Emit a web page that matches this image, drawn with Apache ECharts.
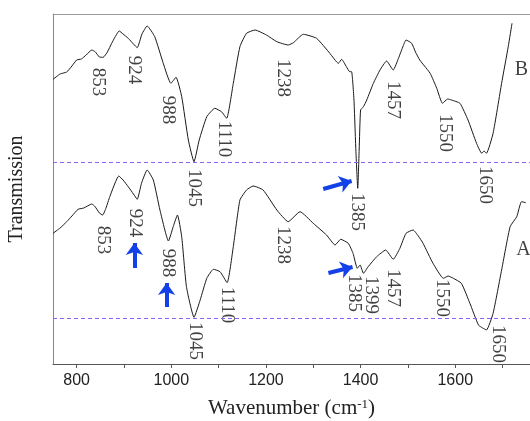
<!DOCTYPE html>
<html>
<head>
<meta charset="utf-8">
<script src="https://cdn.jsdelivr.net/npm/echarts@6/dist/echarts.min.js"></script>
<style>
  html, body { margin: 0; padding: 0; background: #fff; }
  #chart { width: 530px; height: 421px; }
</style>
</head>
<body>
<div id="chart"></div>
<script>
// spectrum B (upper trace): [wavenumber, transmission offset]
const curveB = [
  [750, 284.7], [765, 290], [779, 292], [790, 298], [800, 304], [810, 305], [820, 309],
  [832, 314], [839, 312.3], [848, 307], [856, 306.7], [865, 312], [874, 320.7], [890, 333],
  [898, 330], [909, 325.7], [920, 320], [928, 316.3], [938, 330], [949, 338], [965, 327.3],
  [983, 300.7], [999, 280.7], [1010, 286.7], [1022, 267.3], [1036, 224], [1048, 202.3],
  [1059, 224], [1075, 247.3], [1092, 255.7], [1106, 252.3], [1117, 245.7], [1131, 280.7],
  [1145, 317.3], [1159, 330.7], [1177, 334], [1201, 329], [1223, 322.3], [1247, 319],
  [1258, 321.3], [1279, 329.7], [1307, 325.7], [1335, 310.7], [1353, 300.7], [1360, 304.7],
  [1370, 297.3], [1377, 292.3], [1381, 292.3], [1386, 264], [1390, 214], [1394, 175.7],
  [1397, 214], [1400, 254], [1406, 257.3], [1413, 264], [1427, 280.7], [1441, 294],
  [1455, 303], [1469, 294], [1480, 305.7], [1490, 318], [1496, 324], [1508, 320.7],
  [1516, 312], [1525, 304], [1535, 298], [1547, 290.7], [1561, 275.7], [1573, 260.7],
  [1584, 265], [1592, 264], [1610, 260.7], [1627, 244], [1645, 220.7], [1656, 210.7],
  [1661, 213], [1666, 210.7], [1680, 230.7], [1698, 280.7], [1712, 317.3], [1720, 340.7]
];

// spectrum A (lower trace)
const curveA = [
  [750, 130.7], [765, 136], [779, 142.3], [790, 148], [803, 154.7], [815, 156], [832, 160],
  [839, 157.3], [848, 151], [855, 149], [862, 156], [870, 167.3], [889, 188], [898, 184],
  [909, 177.3], [920, 170], [928, 164.7], [937, 180.7], [949, 194], [962, 184], [976, 154],
  [994, 123], [1004, 137.3], [1013, 149], [1022, 127.3], [1032, 77.3], [1048, 46.7],
  [1061, 64], [1075, 85.7], [1089, 94.7], [1103, 92.3], [1118, 81.3], [1131, 117.3],
  [1145, 164], [1159, 174], [1173, 178], [1194, 174], [1223, 154], [1247, 142.3],
  [1272, 152.3], [1300, 140.7], [1328, 129], [1346, 119], [1358, 124.7], [1374, 120.7],
  [1384, 110.7], [1393, 95.7], [1399, 99], [1406, 90.7], [1416, 97.3], [1434, 107.3],
  [1453, 114], [1469, 104.7], [1483, 115.7], [1496, 130.7], [1511, 134], [1522, 128],
  [1532, 120.7], [1553, 100.7], [1575, 85.7], [1585, 88], [1596, 85.7], [1613, 80.7],
  [1631, 60.7], [1649, 39], [1658, 36], [1666, 34], [1680, 50.7], [1698, 94], [1716, 137.3],
  [1730, 147.3], [1740, 162.3], [1749, 161.3]
];

// peak labels: [x, y, text]
const peakLabelsB = [
  [846, 282, '853'], [922, 294, '924'], [992, 254, '988'], [1048, 176, '1045'],
  [1112, 225, '1110'], [1237, 286, '1238'], [1392, 152, '1385'], [1469, 264, '1457'],
  [1578, 231, '1550'], [1663, 179, '1650']
];
const peakLabelsA = [
  [855, 124, '853'], [923, 141, '924'], [992, 101, '988'], [1050, 23, '1045'],
  [1117, 59, '1110'], [1237, 119, '1238'], [1386, 71, '1385'], [1421, 69, '1399'],
  [1469, 76, '1457'], [1571, 66, '1550'], [1691, 20, '1650']
];
const traceNames = [[1740, 294, 'B'], [1744, 114, 'A']];

// reference baselines
const baselines = [202, 46];

// arrows: [[x1, y1], [x2, y2]]
const arrows = [
  [[1321, 175], [1381, 183]],
  [[1332, 91], [1383, 97]],
  [[922, 96], [922, 121]],
  [[990, 57], [990, 81]]
];

const tickValues = [800, 900, 1000, 1100, 1200, 1300, 1400, 1500, 1600, 1700];
const labelValues = [800, 1000, 1200, 1400, 1600];

const chart = echarts.init(document.getElementById('chart'), null, { renderer: 'canvas' });

const serif = 'Liberation Serif';

const option = {
  animation: false,
  backgroundColor: '#fff',
  grid: { left: 53, right: 0, top: 14, bottom: 57, outerBoundsMode: 'none' },
  xAxis: [
    {
      type: 'value',
      min: 750,
      max: 1758,
      splitLine: { show: false },
      axisLine: { lineStyle: { color: '#555', width: 1 } },
      axisTick: { customValues: tickValues, length: 4, lineStyle: { color: '#555' } },
      axisLabel: {
        customValues: labelValues,
        margin: 9,
        formatter: v => String(v),
        fontFamily: 'Liberation Sans',
        fontSize: 16,
        color: '#222'
      },
      name: '{a|Wavenumber (cm}{s|-1}{a|)}',
      nameLocation: 'middle',
      nameGap: 34,
      nameTextStyle: {
        rich: {
          a: { fontFamily: serif, fontSize: 21, color: '#222' },
          s: { fontFamily: serif, fontSize: 13, color: '#222', verticalAlign: 'top', padding: [0, 0, 8, 0] }
        }
      }
    },
    {
      type: 'value',
      position: 'top',
      min: 750,
      max: 1758,
      splitLine: { show: false },
      axisLine: { lineStyle: { color: '#999', width: 1 } },
      axisTick: { show: false },
      axisLabel: { show: false }
    }
  ],
  yAxis: {
    type: 'value',
    min: 0,
    max: 350,
    splitLine: { show: false },
    axisLine: { show: true, lineStyle: { color: '#888', width: 1 } },
    axisTick: { show: false },
    axisLabel: { show: false },
    name: 'Transmission',
    nameLocation: 'middle',
    nameGap: 26,
    nameTextStyle: { fontFamily: serif, fontSize: 20, color: '#222' }
  },
  series: [
    {
      name: 'B',
      type: 'line',
      data: curveB,
      showSymbol: false,
      smooth: 0.15,
      lineStyle: { color: '#1a1a1a', width: 1 },
      markLine: {
        silent: true,
        symbol: 'none',
        label: { show: false },
        lineStyle: { color: '#8f63f0', type: [4, 3], width: 1 },
        data: baselines.map(v => ({ yAxis: v }))
      }
    },
    {
      name: 'A',
      type: 'line',
      data: curveA,
      showSymbol: false,
      smooth: 0.15,
      lineStyle: { color: '#1a1a1a', width: 1 },
      markLine: {
        silent: true,
        symbol: ['none', 'arrow'],
        symbolSize: [13, 12],
        label: { show: false },
        lineStyle: { color: '#1440e8', type: 'solid', width: 4 },
        data: arrows.map(a => [{ coord: a[0] }, { coord: a[1] }])
      }
    },
    {
      name: 'peaks',
      type: 'scatter',
      data: peakLabelsB.concat(peakLabelsA),
      symbolSize: 0,
      silent: true,
      label: {
        show: true,
        position: 'inside',
        rotate: -90,
        formatter: p => p.data[2],
        fontFamily: serif,
        fontSize: 19,
        color: '#111'
      }
    },
    {
      name: 'traces',
      type: 'scatter',
      data: traceNames,
      symbolSize: 0,
      silent: true,
      label: {
        show: true,
        position: 'inside',
        formatter: p => p.data[2],
        fontFamily: serif,
        fontSize: 20,
        color: '#111'
      }
    }
  ]
};

chart.setOption(option);
window.addEventListener('resize', chart.resize);
</script>
</body>
</html>
